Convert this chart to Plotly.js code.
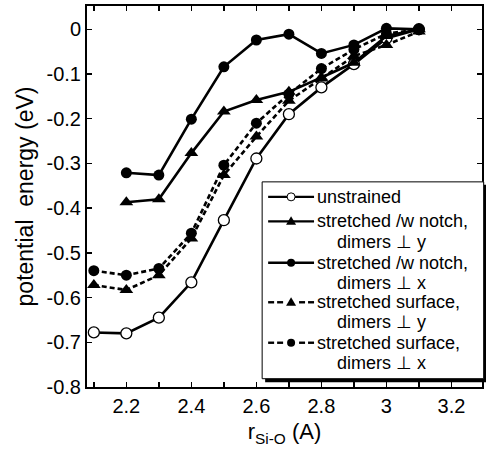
<!DOCTYPE html>
<html>
<head>
<meta charset="utf-8">
<script src="https://cdn.plot.ly/plotly-3.0.1.min.js"></script>
<style>html,body{margin:0;padding:0;background:#fff;}#chart{width:486px;height:453px;}</style>
</head>
<body>
<div id="chart"></div>
<script>
// Data
const rSiO = [2.1, 2.2, 2.3, 2.4, 2.5, 2.6, 2.7, 2.8, 2.9, 3.0, 3.1];
const rNotch = [2.2, 2.3, 2.4, 2.5, 2.6, 2.7, 2.8, 2.9, 3.0, 3.1];
const unstrained = [-0.678, -0.680, -0.645, -0.566, -0.427, -0.289, -0.190, -0.130, -0.078, -0.020, 0.0];
const notchY = [-0.387, -0.380, -0.277, -0.184, -0.158, -0.140, -0.108, -0.075, -0.015, 0.0];
const notchX = [-0.321, -0.326, -0.201, -0.084, -0.024, -0.011, -0.054, -0.035, 0.002, 0.0];
const surfY = [-0.572, -0.583, -0.550, -0.468, -0.326, -0.240, -0.160, -0.110, -0.060, -0.035, -0.005];
const surfX = [-0.540, -0.550, -0.535, -0.456, -0.304, -0.210, -0.145, -0.088, -0.045, -0.010, 0.0];

const xTickVals = [2.2, 2.4, 2.6, 2.8, 3.0, 3.2];
const xTickText = ['2.2', '2.4', '2.6', '2.8', '3', '3.2'];
const xMinorVals = [2.1, 2.3, 2.5, 2.7, 2.9, 3.1];
const yTickVals = [0, -0.1, -0.2, -0.3, -0.4, -0.5, -0.6, -0.7, -0.8];
const yTickText = ['0', '-0.1', '-0.2', '-0.3', '-0.4', '-0.5', '-0.6', '-0.7', '-0.8'];

// Legend entries: first line, second line (or null)
const legendLines = [
  ['unstrained', null],
  ['stretched /w notch,', 'dimers \u22a5 y'],
  ['stretched /w notch,', 'dimers \u22a5 x'],
  ['stretched surface,', 'dimers \u22a5 y'],
  ['stretched surface,', 'dimers \u22a5 x']
];
const seriesNames = legendLines.map(l => l[1] ? l[0] + ' ' + l[1] : l[0]);

const FONT = 'Liberation Sans, Arial, Helvetica, sans-serif';
const lw = 2.6;
const DASH = '5px,3px';

const styles = [
  {dash: 'solid', symbol: 'circle', open: true},
  {dash: 'solid', symbol: 'triangle-up', open: false},
  {dash: 'solid', symbol: 'circle', open: false},
  {dash: DASH, symbol: 'triangle-up', open: false},
  {dash: DASH, symbol: 'circle', open: false}
];
const xs = [rSiO, rNotch, rNotch, rSiO, rSiO];
const ys = [unstrained, notchY, notchX, surfY, surfX];

const traces = ys.map((y, i) => ({
  x: xs[i], y: y, name: seriesNames[i], mode: 'lines+markers', showlegend: false,
  line: {color: '#000', width: lw, dash: styles[i].dash},
  marker: {
    symbol: styles[i].symbol,
    size: styles[i].symbol === 'circle' ? 11 : 12,
    color: styles[i].open ? '#fff' : '#000',
    line: {color: '#000', width: styles[i].open ? 1.3 : 0}
  }
}));

// plot-area geometry in pixels (for placing the hand-made legend box)
const PL = 86.5, PT = 6, PW = 395.8, PH = 381.3;
const px = v => (v - PL) / PW;
const py = v => (PT + PH - v) / PH;

const shapes = [];
const annotations = [];
// legend shadow and box
shapes.push({type: 'rect', xref: 'paper', yref: 'paper', layer: 'above',
  x0: px(265), x1: px(488), y0: py(185), y1: py(382.5),
  fillcolor: '#000', line: {width: 0}});
shapes.push({type: 'rect', xref: 'paper', yref: 'paper', layer: 'above',
  x0: px(262), x1: px(484), y0: py(182), y1: py(379),
  fillcolor: '#fff', line: {color: '#000', width: 1}});

const rowY = [[197, null], [221.5, 242], [263, 283], [302.5, 322.5], [343, 363]];
const sx0 = 268, sx1 = 314, sxm = 291;
legendLines.forEach((ln, i) => {
  const yy = rowY[i][0];
  const st = styles[i];
  if (st.dash === 'solid') {
    shapes.push({type: 'line', xref: 'paper', yref: 'paper', layer: 'above',
      x0: px(sx0), x1: px(sx1), y0: py(yy), y1: py(yy),
      line: {color: '#000', width: 2.4}});
  } else {
    [[268, 274], [277, 283], [299, 305], [308, 314]].forEach(d => {
      shapes.push({type: 'line', xref: 'paper', yref: 'paper', layer: 'above',
        x0: px(d[0]), x1: px(d[1]), y0: py(yy), y1: py(yy),
        line: {color: '#000', width: 2.4}});
    });
  }
  if (st.symbol === 'circle') {
    shapes.push({type: 'circle', xref: 'paper', yref: 'paper', layer: 'above',
      xsizemode: 'pixel', ysizemode: 'pixel', xanchor: px(sxm), yanchor: py(yy),
      x0: -4, x1: 4, y0: -4, y1: 4,
      fillcolor: st.open ? '#fff' : '#000', line: {color: '#000', width: st.open ? 1 : 0}});
  } else {
    shapes.push({type: 'path', xref: 'paper', yref: 'paper', layer: 'above',
      xsizemode: 'pixel', ysizemode: 'pixel', xanchor: px(sxm), yanchor: py(yy),
      path: 'M -5,-3.5 L 5,-3.5 L 0,5 Z',
      fillcolor: '#000', line: {width: 0}});
  }
  annotations.push({xref: 'paper', yref: 'paper', x: px(316), y: py(yy),
    xanchor: 'left', yanchor: 'middle', showarrow: false, borderpad: 0,
    text: ln[0], font: {family: FONT, size: 18, color: '#000'}});
  if (ln[1]) {
    annotations.push({xref: 'paper', yref: 'paper', x: px(336), y: py(rowY[i][1]),
      xanchor: 'left', yanchor: 'middle', showarrow: false, borderpad: 0,
      text: ln[1], font: {family: FONT, size: 18, color: '#000'}});
  }
});

const layout = {
  width: 486, height: 453,
  margin: {l: PL, r: 486 - PL - PW, t: PT, b: 453 - PT - PH},
  paper_bgcolor: '#fff', plot_bgcolor: '#fff',
  font: {family: FONT, color: '#000', size: 18},
  showlegend: false,
  xaxis: {
    range: [2.079, 3.294], tickmode: 'array', tickvals: xTickVals, ticktext: xTickText,
    ticks: 'inside', ticklen: 5, tickwidth: 1.5, tickcolor: '#000',
    minor: {tickvals: xMinorVals, ticks: 'inside', ticklen: 5, tickwidth: 1.5, tickcolor: '#000', showgrid: false},
    showline: true, linewidth: 2, linecolor: '#000', mirror: 'ticks',
    showgrid: false, zeroline: false,
    tickfont: {family: FONT, size: 20},
    title: {text: 'r<sub>Si-O</sub> (A)', font: {family: FONT, size: 22}, standoff: 8}
  },
  yaxis: {
    range: [-0.8, 0.052], tickmode: 'array', tickvals: yTickVals, ticktext: yTickText,
    ticks: 'inside', ticklen: 5, tickwidth: 1.5, tickcolor: '#000',
    showline: true, linewidth: 2, linecolor: '#000', mirror: 'ticks',
    showgrid: false, zeroline: false,
    tickfont: {family: FONT, size: 20},
    title: {text: 'potential  energy (eV)', font: {family: FONT, size: 23}, standoff: 6}
  },
  shapes: shapes,
  annotations: annotations
};

Plotly.newPlot('chart', traces, layout, {staticPlot: true, displayModeBar: false});
</script>
</body>
</html>
